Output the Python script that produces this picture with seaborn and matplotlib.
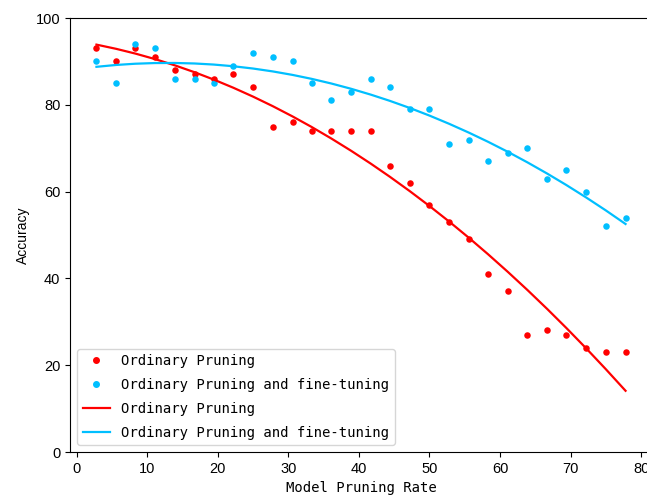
import numpy as np
import pandas as pd
import matplotlib
matplotlib.use("Agg")
import matplotlib.pyplot as plt
import seaborn as sns
from matplotlib.lines import Line2D

# Pruning rate (%) at which each model was evaluated
pruning_rate = [2.8, 5.6, 8.3, 11.1, 13.9, 16.7, 19.4, 22.2, 25.0, 27.8,
                30.6, 33.3, 36.1, 38.9, 41.7, 44.4, 47.2, 50.0, 52.8, 55.6,
                58.3, 61.1, 63.9, 66.7, 69.4, 72.2, 75.0, 77.8]

# Accuracy after plain pruning
acc_pruning = [93, 90, 93, 91, 88, 87, 86, 87, 84, 75,
               76, 74, 74, 74, 74, 66, 62, 57, 53, 49,
               41, 37, 27, 28, 27, 24, 23, 23]

# Accuracy after pruning followed by fine-tuning
acc_finetune = [90, 85, 94, 93, 86, 86, 85, 89, 92, 91,
                90, 85, 81, 83, 86, 84, 79, 79, 71, 72,
                67, 69, 70, 63, 65, 60, 52, 54]

label_a = "Ordinary Pruning"
label_b = "Ordinary Pruning and fine-tuning"
color_a = "#ff0000"
color_b = "#00bfff"

x = np.array(pruning_rate)
fit_a = np.polyval(np.polyfit(x, acc_pruning, 2), x)
fit_b = np.polyval(np.polyfit(x, acc_finetune, 2), x)

df = pd.DataFrame({"rate": x, "a": acc_pruning, "b": acc_finetune,
                   "fa": fit_a, "fb": fit_b})

mono = "DejaVu Sans Mono"
plt.rcParams["font.family"] = ["Liberation Sans", "DejaVu Sans"]

fig = plt.figure(figsize=(6.47, 5.0), dpi=100)
ax = fig.add_axes([70 / 647, 48 / 500, 582 / 647, 434 / 500])

sns.scatterplot(data=df, x="rate", y="a", color=color_a, s=22,
                linewidth=0, ax=ax)
sns.scatterplot(data=df, x="rate", y="b", color=color_b, s=22,
                linewidth=0, ax=ax)
sns.lineplot(data=df, x="rate", y="fa", color=color_a, lw=1.6, ax=ax)
sns.lineplot(data=df, x="rate", y="fb", color=color_b, lw=1.6, ax=ax)

ax.set_ylim(0, 100)
ax.set_xticks([0, 10, 20, 30, 40, 50, 60, 70, 80])
ax.set_yticks([0, 20, 40, 60, 80, 100])
ax.tick_params(labelsize=10.5)
ax.set_xlabel("Model Pruning Rate", fontfamily=mono, fontsize=10)
ax.set_ylabel("Accuracy", fontsize=10)

handles = [
    Line2D([], [], ls="", marker="o", ms=4, mfc=color_a, mec=color_a),
    Line2D([], [], ls="", marker="o", ms=4, mfc=color_b, mec=color_b),
    Line2D([], [], color=color_a, lw=1.6),
    Line2D([], [], color=color_b, lw=1.6),
]
ax.legend(handles, [label_a, label_b, label_a, label_b], loc="lower left",
          prop={"family": mono, "size": 10}, labelspacing=0.7)

fig.savefig("out.png", dpi=100)
